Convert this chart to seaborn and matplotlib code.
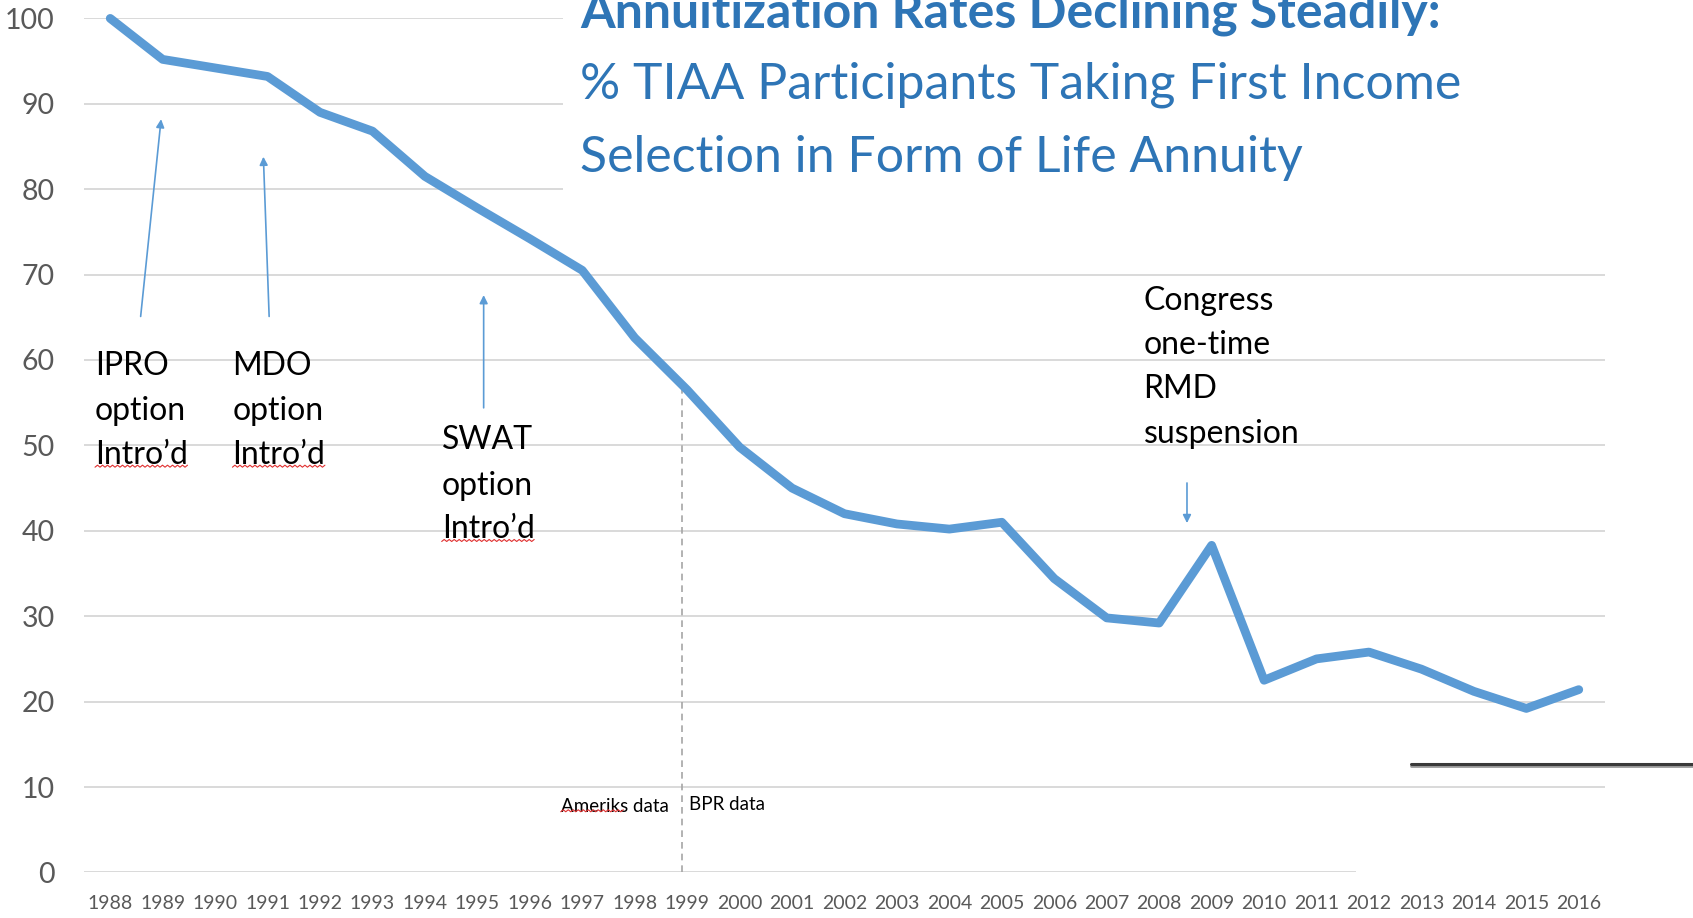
import matplotlib
matplotlib.use('Agg')
import numpy as np
import pandas as pd
import seaborn as sns
import matplotlib.pyplot as plt
from matplotlib.patches import Rectangle
from matplotlib.lines import Line2D
from matplotlib.transforms import IdentityTransform

# data
years = list(range(1988, 2017))
rates = [100, 95.2, 94.2, 93.2, 89.0, 86.8, 81.5, 77.8, 74.2, 70.5,
         62.6, 56.5, 49.8, 45.0, 42.0, 40.8, 40.2, 41.0, 34.4, 29.8,
         29.2, 38.3, 22.5, 25.0, 25.8, 23.8, 21.2, 19.2, 21.4]
y_ticks = list(range(0, 101, 10))

title_bold = 'Annuitization Rates Declining Steadily:'
title_rest = ['% TIAA Participants Taking First Income',
              'Selection in Form of Life Annuity']

ipro_lines = ['IPRO', 'option', 'Intro\u2019d']
mdo_lines = ['MDO', 'option', 'Intro\u2019d']
swat_lines = ['SWAT', 'option', 'Intro\u2019d']
congress_lines = ['Congress', 'one-time', 'RMD', 'suspension']
split_year = 1998.9

blue = '#5b9bd5'
grey = '#595959'

df = pd.DataFrame({'year': years, 'rate': rates})

sns.set_style('whitegrid')
plt.rcParams['font.family'] = ['Lato', 'DejaVu Sans']

W, H = 1693, 918
fig = plt.figure(figsize=(W / 100, H / 100), dpi=100)
ax = fig.add_axes([84 / W, 1 - 872.4 / H, (1605 - 84) / W, (872.4 - 18.4) / H])

sns.lineplot(data=df, x='year', y='rate', ax=ax, color=blue, lw=6.3,
             solid_joinstyle='round', solid_capstyle='round', zorder=3, clip_on=False)

ax.set_xlim(1987.5, 2016.5)
ax.set_ylim(0, 100)
ax.set_xticks(years)
ax.set_yticks(y_ticks)
ax.grid(axis='y', color='#d9d9d9', lw=1.4)
ax.grid(axis='x', visible=False)
sns.despine(ax=ax, left=True, bottom=True)
ax.tick_params(axis='x', labelsize=14, labelcolor=grey, pad=16, length=0)
ax.tick_params(axis='y', labelsize=20.5, labelcolor=grey, pad=21, length=0)
ax.set_xlabel('')
ax.set_ylabel('')

# white boxes that hide parts of the gridlines
ax.add_patch(Rectangle((1996.64, 76), 25, 30, facecolor='white', edgecolor='none',
                       zorder=1, clip_on=False))
ax.add_patch(Rectangle((2011.76, -1.5), 25, 4, facecolor='white', edgecolor='none',
                       zorder=1, clip_on=False))

# data source split
ax.axvline(split_year, ymin=0, ymax=rates[years.index(1999)] / 100,
           color='#a6a6a6', lw=1.2, ls=(0, (4, 3)), zorder=2)
t_am = ax.text(1996.59, 7.1, 'Ameriks data', fontsize=13.5, color='black', va='baseline')
ax.text(1999.04, 7.3, 'BPR data', fontsize=13.5, color='black', va='baseline')

# annotations
note_kw = dict(fontsize=23, color='black', va='baseline')
intro_texts = []
for lines, x0, base in [(ipro_lines, 1987.71, [58.3, 53.0, 47.8]),
                        (mdo_lines, 1990.33, [58.3, 53.0, 47.8]),
                        (swat_lines, 1994.32, [49.6, 44.2, 39.1])]:
    for s, yb in zip(lines, base):
        t = ax.text(x0, yb, s, **note_kw)
    intro_texts.append(t)
for s, yb in zip(congress_lines, [65.9, 60.7, 55.5, 50.3]):
    ax.text(2007.70, yb, s, **note_kw)

arrow_kw = dict(arrowstyle='-|>', color=blue, lw=1.2, mutation_scale=12,
                shrinkA=0, shrinkB=0)
ax.annotate('', xy=(1988.97, 88.2), xytext=(1988.58, 65.1), arrowprops=arrow_kw)
ax.annotate('', xy=(1990.92, 83.8), xytext=(1991.03, 65.1), arrowprops=arrow_kw)
ax.annotate('', xy=(1995.12, 67.6), xytext=(1995.12, 54.4), arrowprops=arrow_kw)
ax.annotate('', xy=(2008.53, 40.9), xytext=(2008.53, 45.6), arrowprops=arrow_kw)

# title
title_kw = dict(fontsize=36, color='#2e75b6', va='baseline')
fig.text(580 / W, 1 - 28 / H, title_bold, fontweight='bold', **title_kw)
fig.text(580 / W, 1 - 99 / H, title_rest[0], **title_kw)
fig.text(580 / W, 1 - 172 / H, title_rest[1], **title_kw)

# slide rule at bottom right
fig.add_artist(Line2D([1411 / W, 1], [1 - 766 / H] * 2, color='#9a9a9a', lw=2))
fig.add_artist(Line2D([1411 / W, 1], [1 - 764 / H] * 2, color='#3a3a3a', lw=2.2))

# spell-check squiggles
fig.canvas.draw()


def squiggle(t, frac=1.0):
    bb = t.get_window_extent()
    xs = np.arange(bb.x0, bb.x0 + bb.width * frac, 2.5)
    ys = bb.y0 + 3 + (np.arange(len(xs)) % 2) * 2
    fig.add_artist(Line2D(xs, ys, transform=IdentityTransform(), color='#e03030', lw=0.8))


for t in intro_texts:
    squiggle(t)
squiggle(t_am, 0.6)

fig.savefig('out.png', dpi=100)
